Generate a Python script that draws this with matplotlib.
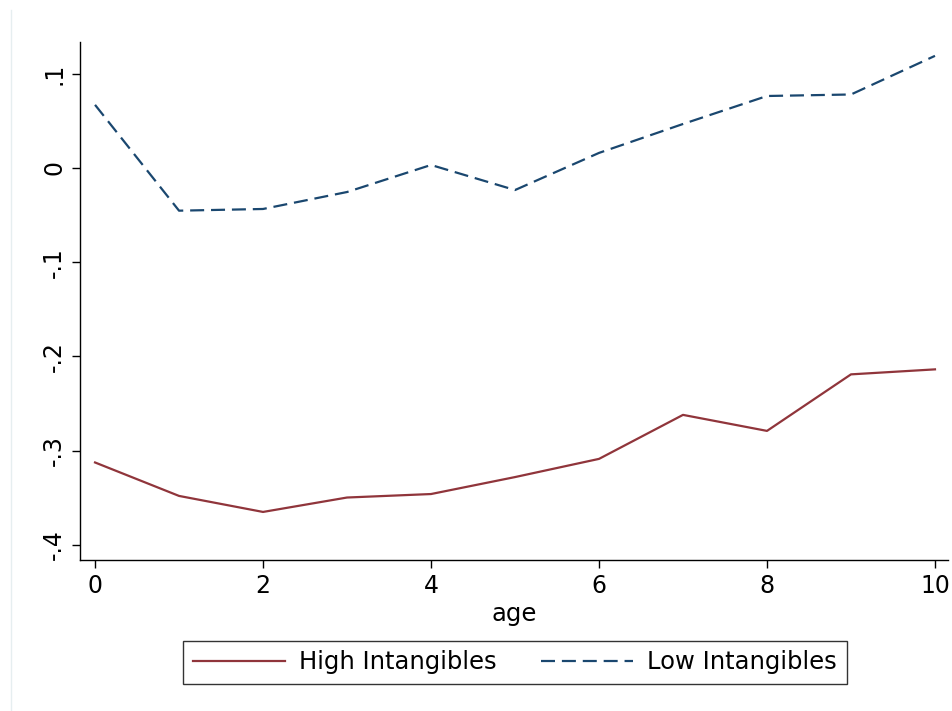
import matplotlib
matplotlib.use("Agg")
import matplotlib.pyplot as plt
from matplotlib.lines import Line2D

age = list(range(11))
high_intangibles = [-0.3125, -0.348, -0.365, -0.3497, -0.346, -0.328, -0.3087, -0.262, -0.279, -0.219, -0.2137]
low_intangibles = [0.067, -0.0453, -0.0435, -0.0255, 0.0032, -0.0234, 0.016, 0.0467, 0.0764, 0.078, 0.119]
y_ticks = [-0.4, -0.3, -0.2, -0.1, 0.0, 0.1]
y_tick_labels = ["-.4", "-.3", "-.2", "-.1", "0", ".1"]
x_ticks = [0, 2, 4, 6, 8, 10]

maroon = "#90353b"
navy = "#1a476f"
dash = (6.3, 3.1)

plt.rcParams["font.family"] = ["DejaVu Sans"]

W, H = 953, 711
fig = plt.figure(figsize=(W / 100, H / 100), dpi=100)
ax = fig.add_axes([80 / W, 1 - 560 / H, (948 - 80) / W, (560 - 42) / H])

ax.plot(age, high_intangibles, color=maroon, lw=1.6, label="High Intangibles")
ax.plot(age, low_intangibles, color=navy, lw=1.6, dashes=dash, label="Low Intangibles")

ax.set_xlim(-0.179, 10.155)
ax.set_ylim(-0.416, 0.1337)
ax.set_xticks(x_ticks)
ax.set_xticklabels([str(t) for t in x_ticks])
ax.set_yticks(y_ticks)
ax.set_yticklabels(y_tick_labels, rotation=90, va="center")

for s in ("top", "right"):
    ax.spines[s].set_visible(False)
for s in ("left", "bottom"):
    ax.spines[s].set_linewidth(1.0)
ax.tick_params(axis="both", direction="out", length=6, width=1.0, labelsize=17, pad=4)
ax.set_xlabel("age", fontsize=17.5, labelpad=3)

handles = [Line2D([], [], color=maroon, lw=1.6),
           Line2D([], [], color=navy, lw=1.6, dashes=dash)]
leg = fig.legend(handles, ["High Intangibles", "Low Intangibles"], loc="center",
                 bbox_to_anchor=(515 / W, 1 - 662.5 / H), ncol=2, fontsize=17.5,
                 frameon=True, fancybox=False, edgecolor="black", handlelength=3.8,
                 columnspacing=1.8, handletextpad=0.58, borderpad=0.4)
leg.get_frame().set_linewidth(1.0)

# faint outer region outline on the left
fig.add_artist(Line2D([10.5 / W, 10.5 / W], [0, 1 - 10 / H], transform=fig.transFigure,
                      color="#e6eef0", lw=1.0))

fig.savefig("out.png", dpi=100, facecolor="white")
